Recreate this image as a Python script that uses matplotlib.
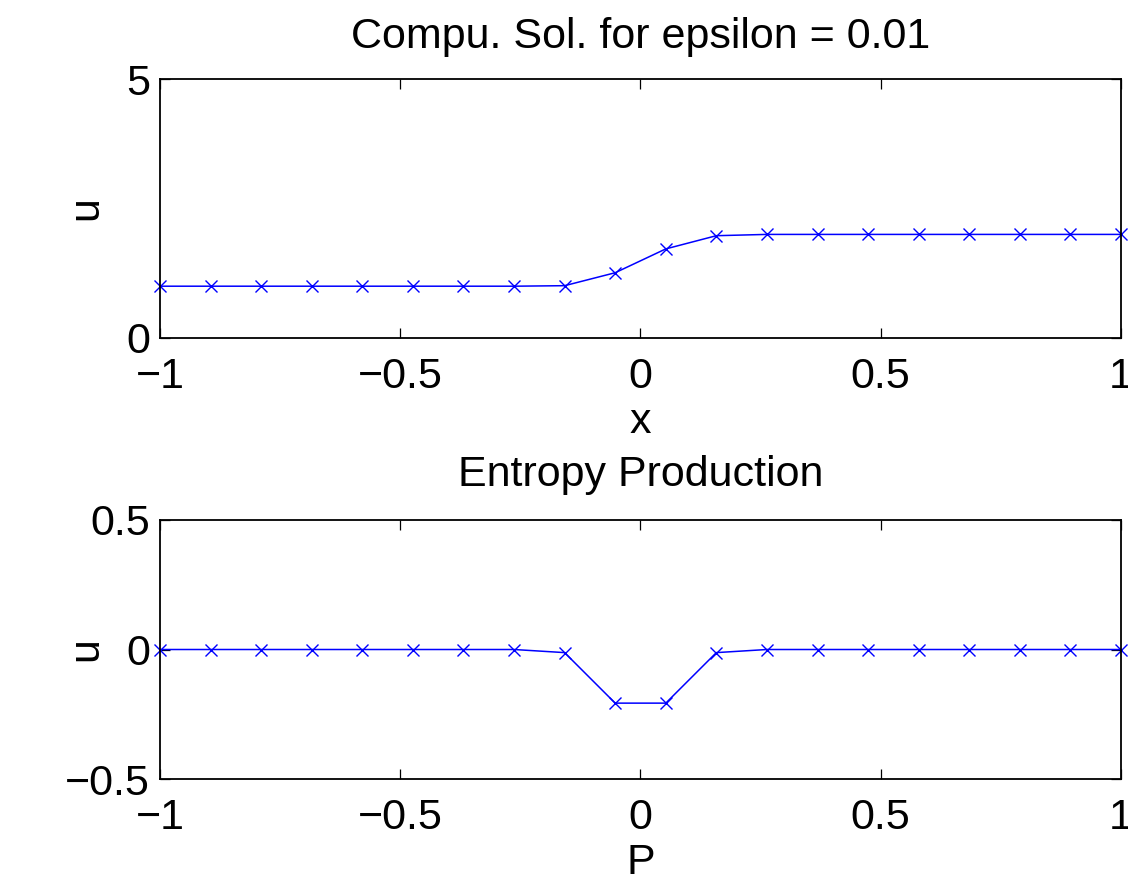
import matplotlib
matplotlib.use("Agg")
import matplotlib.pyplot as plt
import numpy as np

# 20 grid points on [-1, 1]
x_pts = np.linspace(-1, 1, 20)

u_top = [1.0, 1.0, 1.0, 1.0, 1.0, 1.0, 1.0, 1.0, 1.01, 1.26,
         1.72, 1.975, 2.0, 2.0, 2.0, 2.0, 2.0, 2.0, 2.0, 2.0]
entropy = [0.0, 0.0, 0.0, 0.0, 0.0, 0.0, 0.0, 0.0, -0.012, -0.207,
           -0.207, -0.012, 0.0, 0.0, 0.0, 0.0, 0.0, 0.0, 0.0, 0.0]

x_ticks = [-1, -0.5, 0, 0.5, 1]
x_ticklabels = ['\u22121', '\u22120.5', '0', '0.5', '1']

plt.rcParams['font.family'] = ['Liberation Sans', 'DejaVu Sans']
fs = 31

fig = plt.figure(figsize=(11.28, 8.77), dpi=100)
ax1 = fig.add_axes([0.1418, 0.6146, 0.852, 0.2953])
ax2 = fig.add_axes([0.1418, 0.1117, 0.852, 0.2954])

def style(ax):
    ax.set_xlim(-1, 1)
    ax.set_xticks(x_ticks)
    ax.set_xticklabels(x_ticklabels)
    # matlab style: short ticks pointing inwards on all four sides
    ax.tick_params(direction='in', length=7, width=0.9, top=True, right=True, labelsize=fs)
    ax.tick_params(axis='x', pad=14)
    ax.tick_params(axis='y', pad=7)
    for s in ax.spines.values():
        s.set_linewidth(1.3)

ax1.plot(x_pts, u_top, color='blue', marker='x', markersize=9, linewidth=1.1, clip_on=False)
style(ax1)
ax1.set_ylim(0, 5)
ax1.set_yticks([0, 5])
ax1.set_title('Compu. Sol. for epsilon = 0.01', fontsize=fs, pad=22.5)
ax1.set_xlabel('x', fontsize=fs, labelpad=3)
ax1.set_ylabel('u', fontsize=fs)
ax1.yaxis.set_label_coords(-0.056, 0.5)

ax2.plot(x_pts, entropy, color='blue', marker='x', markersize=9, linewidth=1.1, clip_on=False)
style(ax2)
ax2.set_ylim(-0.5, 0.5)
ax2.set_yticks([-0.5, 0, 0.5])
ax2.set_yticklabels(['\u22120.5', '0', '0.5'])
ax2.set_title('Entropy Production', fontsize=fs, pad=24.5)
ax2.set_xlabel('P', fontsize=fs, labelpad=3)
ax2.set_ylabel('u', fontsize=fs)
ax2.yaxis.set_label_coords(-0.056, 0.5)

fig.savefig('out.png', dpi=100)
